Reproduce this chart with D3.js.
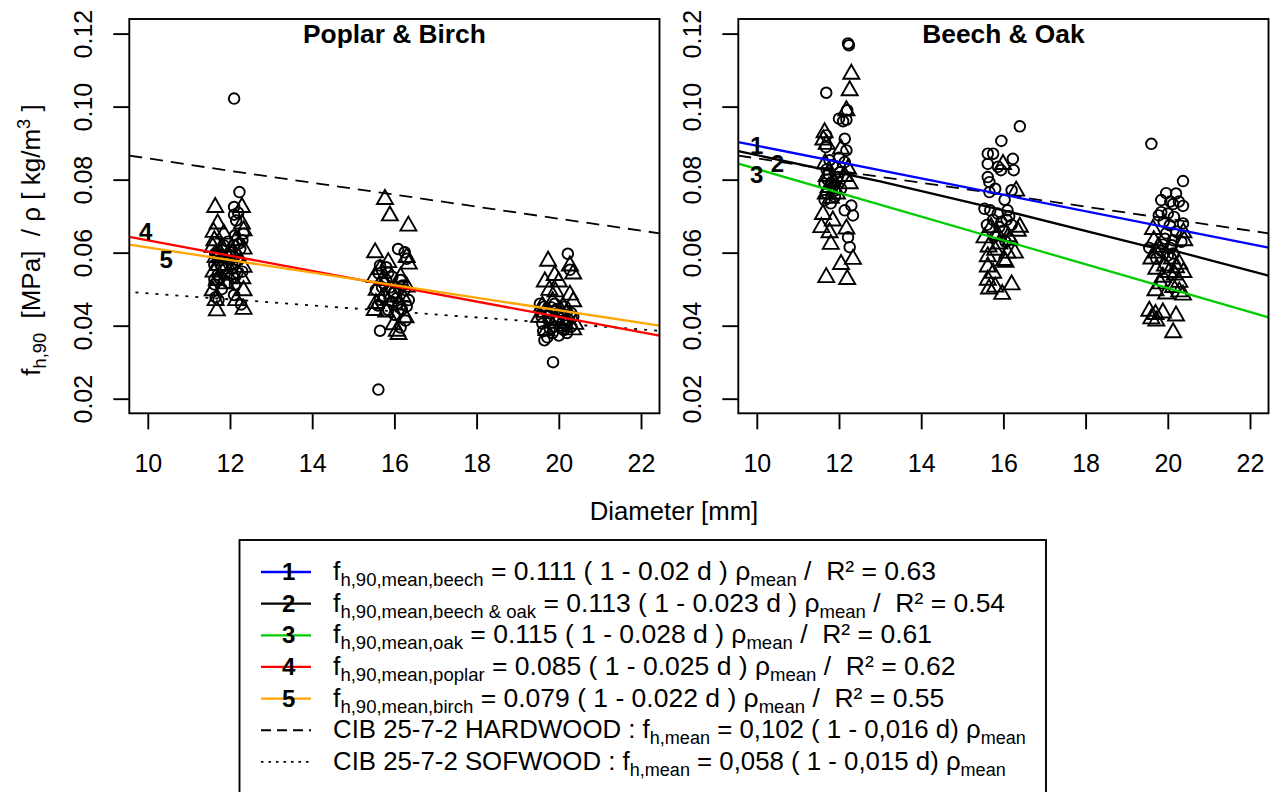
<!DOCTYPE html>
<html>
<head>
<meta charset="utf-8">
<script src="https://cdn.jsdelivr.net/npm/d3@7"></script>
<style>
  body { margin: 0; background: #fff; }
  text { font-family: "Liberation Sans", Arial, Helvetica, sans-serif; }
</style>
</head>
<body>
<div id="chart"></div>
<script>
const width = 1271;
const height = 792;

// axis ticks
const xTicks = [10, 12, 14, 16, 18, 20, 22];
const yTicks = [0.02, 0.04, 0.06, 0.08, 0.10, 0.12];
const panelTitles = ["Poplar & Birch", "Beech & Oak"];

// points [diameter, f/rho]
// Poplar & Birch panel: circles = poplar, triangles = birch
const poplarPts = [
  [12.10, 0.1022], [12.23, 0.0766], [12.10, 0.0725], [12.10, 0.0704], [12.20, 0.0709], [12.15, 0.0688],
  [12.33, 0.0652], [12.12, 0.0647], [12.30, 0.0634], [12.10, 0.0619], [12.25, 0.0610], [12.00, 0.0601],
  [11.64, 0.0597], [11.75, 0.0579], [12.20, 0.0579], [11.62, 0.0566], [11.90, 0.0557], [12.30, 0.0548],
  [11.70, 0.0540], [12.10, 0.0531], [11.62, 0.0527], [11.95, 0.0518], [11.65, 0.0478], [12.10, 0.0484],
  [12.27, 0.0458], [12.12, 0.0513], [11.62, 0.0513], [11.80, 0.0560], [12.00, 0.0590], [11.85, 0.0620],
  [12.05, 0.0570], [11.70, 0.0605], [11.80, 0.0500], [12.18, 0.0545], [11.95, 0.0630], [11.72, 0.0470],
  [11.85, 0.0585], [12.05, 0.0555], [11.75, 0.0530], [12.15, 0.0595], [11.92, 0.0540], [12.22, 0.0625],
  [15.61, 0.0225], [16.09, 0.0610], [16.25, 0.0601], [15.65, 0.0565], [15.80, 0.0560], [16.30, 0.0583],
  [15.62, 0.0543], [15.95, 0.0534], [15.75, 0.0516], [16.15, 0.0525], [15.55, 0.0498], [16.00, 0.0490],
  [16.25, 0.0498], [15.65, 0.0471], [16.10, 0.0462], [16.30, 0.0453], [15.85, 0.0443], [16.27, 0.0414],
  [15.65, 0.0386], [16.15, 0.0395], [15.90, 0.0505], [16.05, 0.0475], [15.75, 0.0480], [16.20, 0.0510],
  [15.85, 0.0545], [16.35, 0.0470], [15.60, 0.0455], [16.00, 0.0430], [15.70, 0.0505], [15.95, 0.0465],
  [16.12, 0.0500], [15.80, 0.0525], [16.18, 0.0445],
  [19.86, 0.0300], [20.22, 0.0597], [20.27, 0.0553], [19.54, 0.0460], [19.65, 0.0452], [19.80, 0.0433],
  [20.00, 0.0424], [20.20, 0.0438], [19.60, 0.0406], [19.88, 0.0397], [20.12, 0.0388], [19.72, 0.0368],
  [20.00, 0.0373], [20.30, 0.0397], [20.35, 0.0424], [19.65, 0.0360], [19.75, 0.0415], [19.95, 0.0445],
  [20.10, 0.0410], [20.25, 0.0415], [19.58, 0.0425], [19.85, 0.0380], [20.15, 0.0452], [20.05, 0.0395],
  [19.70, 0.0440], [20.30, 0.0435], [19.90, 0.0460], [20.20, 0.0380], [19.78, 0.0392], [19.95, 0.0415],
  [20.08, 0.0432], [19.62, 0.0385], [20.18, 0.0400], [19.82, 0.0450]
];
const birchPts = [
  [11.64, 0.0725], [12.29, 0.0725], [11.70, 0.0680], [12.29, 0.0680], [11.60, 0.0657], [11.85, 0.0652],
  [12.33, 0.0661], [11.62, 0.0634], [12.14, 0.0634], [11.58, 0.0616], [11.80, 0.0616], [12.33, 0.0611],
  [11.65, 0.0588], [12.20, 0.0588], [11.72, 0.0566], [12.33, 0.0561], [11.60, 0.0548], [12.05, 0.0543],
  [12.30, 0.0530], [11.68, 0.0525], [11.90, 0.0516], [11.58, 0.0497], [12.33, 0.0497], [11.68, 0.0442],
  [12.33, 0.0446], [11.65, 0.0470], [12.15, 0.0470], [11.95, 0.0590], [12.05, 0.0600], [11.75, 0.0600],
  [15.77, 0.0747], [15.89, 0.0702], [16.34, 0.0674], [15.53, 0.0601], [15.85, 0.0574], [16.30, 0.0588],
  [16.35, 0.0570], [15.52, 0.0534], [15.70, 0.0525], [16.15, 0.0534], [15.57, 0.0498], [15.95, 0.0488],
  [16.30, 0.0507], [15.55, 0.0462], [16.10, 0.0458], [15.52, 0.0443], [15.80, 0.0439], [16.27, 0.0423],
  [16.06, 0.0386], [16.10, 0.0377], [15.98, 0.0404], [15.75, 0.0480], [16.20, 0.0480], [15.65, 0.0555],
  [19.74, 0.0578], [20.27, 0.0565], [20.35, 0.0543], [19.66, 0.0521], [19.90, 0.0539], [20.00, 0.0521],
  [19.77, 0.0498], [19.92, 0.0494], [20.27, 0.0485], [20.35, 0.0467], [19.85, 0.0467], [20.10, 0.0453],
  [19.52, 0.0424], [19.66, 0.0438], [19.92, 0.0415], [20.15, 0.0407], [19.70, 0.0388], [20.35, 0.0390],
  [20.40, 0.0405], [19.60, 0.0455], [20.05, 0.0440]
];
// Beech & Oak panel: circles = beech, triangles = oak
const beechPts = [
  [12.22, 0.1173], [12.24, 0.1168], [11.69, 0.1038], [12.00, 0.0967], [12.18, 0.0964], [12.14, 0.0912],
  [11.69, 0.0921], [12.18, 0.0880], [11.68, 0.0889], [11.77, 0.0853], [12.14, 0.0848], [11.70, 0.0828],
  [11.97, 0.0807], [11.65, 0.0789], [11.85, 0.0780], [11.70, 0.0762], [11.90, 0.0753], [11.65, 0.0744],
  [11.80, 0.0735], [12.30, 0.0729], [12.14, 0.0716], [12.34, 0.0702], [12.22, 0.0642], [12.26, 0.0615],
  [12.20, 0.0990], [12.10, 0.0960], [11.95, 0.0800], [12.05, 0.0775], [11.75, 0.0815], [11.85, 0.0840],
  [12.00, 0.0860], [11.90, 0.0770], [11.80, 0.0790], [12.02, 0.0820], [11.72, 0.0800],
  [16.40, 0.0946], [15.95, 0.0906], [15.62, 0.0871], [15.75, 0.0871], [16.23, 0.0857], [15.62, 0.0843],
  [15.87, 0.0835], [16.25, 0.0826], [15.94, 0.0826], [15.62, 0.0807], [15.66, 0.0793], [15.80, 0.0775],
  [15.66, 0.0766], [16.20, 0.0771], [16.03, 0.0745], [15.54, 0.0720], [15.68, 0.0716], [15.86, 0.0707],
  [16.10, 0.0716], [16.14, 0.0700], [15.75, 0.0690], [15.95, 0.0685], [16.20, 0.0676], [15.60, 0.0676],
  [16.00, 0.0660], [15.80, 0.0645], [16.05, 0.0630], [15.90, 0.0670], [16.08, 0.0690],
  [19.60, 0.0898], [20.37, 0.0796], [19.96, 0.0763], [20.20, 0.0762], [19.84, 0.0744], [20.06, 0.0740],
  [20.27, 0.0740], [20.13, 0.0733], [20.37, 0.0728], [19.84, 0.0711], [19.78, 0.0702], [20.00, 0.0707],
  [20.15, 0.0698], [19.90, 0.0685], [20.05, 0.0675], [20.37, 0.0680], [20.20, 0.0658], [19.96, 0.0653],
  [20.33, 0.0630], [20.13, 0.0634], [19.93, 0.0638], [19.55, 0.0613], [20.06, 0.0613], [19.84, 0.0605],
  [20.13, 0.0598], [19.72, 0.0584], [20.00, 0.0592], [20.10, 0.0620], [19.88, 0.0622]
];
const oakPts = [
  [12.30, 0.1090], [12.26, 0.1045], [12.18, 0.0990], [11.65, 0.0930], [11.62, 0.0910], [11.70, 0.0898],
  [12.05, 0.0885], [11.66, 0.0845], [12.22, 0.0830], [12.14, 0.0810], [11.70, 0.0810], [11.85, 0.0795],
  [11.75, 0.0780], [12.26, 0.0790], [11.68, 0.0762], [11.95, 0.0762], [11.61, 0.0706], [11.85, 0.0688],
  [11.57, 0.0670], [12.18, 0.0666], [11.77, 0.0656], [11.80, 0.0624], [12.34, 0.0583], [12.05, 0.0569],
  [11.69, 0.0533], [12.20, 0.0528], [11.90, 0.0775], [11.80, 0.0750],
  [15.99, 0.0843], [16.31, 0.0770], [16.40, 0.0671], [15.54, 0.0642], [15.86, 0.0650], [16.17, 0.0635],
  [15.64, 0.0617], [15.80, 0.0608], [16.10, 0.0600], [16.28, 0.0600], [15.62, 0.0590], [16.02, 0.0580],
  [15.62, 0.0562], [15.75, 0.0545], [16.05, 0.0575], [15.62, 0.0526], [16.20, 0.0513], [15.80, 0.0507],
  [15.97, 0.0487], [15.65, 0.0502], [16.35, 0.0660], [15.70, 0.0670], [15.90, 0.0625], [16.12, 0.0645],
  [19.64, 0.0665], [20.38, 0.0656], [20.40, 0.0634], [19.66, 0.0634], [19.77, 0.0616], [19.72, 0.0600],
  [19.60, 0.0584], [20.10, 0.0584], [19.93, 0.0565], [20.28, 0.0570], [19.72, 0.0556], [20.20, 0.0560],
  [20.03, 0.0547], [20.38, 0.0547], [20.17, 0.0540], [19.88, 0.0534], [19.82, 0.0516], [20.28, 0.0520],
  [19.70, 0.0497], [20.28, 0.0494], [19.96, 0.0488], [19.55, 0.0441], [19.70, 0.0432], [19.88, 0.0436],
  [19.72, 0.0414], [19.60, 0.0420], [20.20, 0.0428], [20.13, 0.0382], [20.37, 0.0485], [20.13, 0.0506]
];

// fitted / reference lines [diameter, f/rho]
const hardwoodLine = [[9.55, 0.0866], [12, 0.0824], [16, 0.0759], [20, 0.0693], [22.45, 0.0653]];
const softwoodLine = [[9.7, 0.0491], [22.45, 0.0386]];
const poplarLine = [[9.55, 0.0643], [22.45, 0.0373]];
const birchLine = [[9.55, 0.0622], [22.45, 0.0400]];
const beechLine = [[9.55, 0.0903], [22.45, 0.0614]];
const beechOakLine = [[9.55, 0.0878], [12.3, 0.0812], [13, 0.0795], [16, 0.0716], [19.5, 0.0617], [20.1, 0.0607], [22.45, 0.0537]];
const oakLine = [[9.55, 0.0844], [22.45, 0.0423]];

// line number labels inside the panels
const leftLabels = [["4", 9.95, 0.0658], ["5", 10.45, 0.0580]];
const rightLabels = [["1", 10.0, 0.0894], ["2", 10.5, 0.0844], ["3", 10.0, 0.0814]];

// legend texts
const legendNums = ["1", "2", "3", "4", "5", "", ""];
const legendSubs = ["h,90,mean,beech", "h,90,mean,beech & oak", "h,90,mean,oak", "h,90,mean,poplar", "h,90,mean,birch", "h,mean", "h,mean"];
const legendPrefix = ["f", "f", "f", "f", "f", "CIB 25-7-2 HARDWOOD : f", "CIB 25-7-2 SOFWOOD : f"];
const legendEq = [
  " = 0.111 ( 1 - 0.02 d ) ρ",
  " = 0.113 ( 1 - 0.023 d ) ρ",
  " = 0.115 ( 1 - 0.028 d ) ρ",
  " = 0.085 ( 1 - 0.025 d ) ρ",
  " = 0.079 ( 1 - 0.022 d ) ρ",
  " = 0,102 ( 1 - 0,016 d) ρ",
  " = 0,058 ( 1 - 0,015 d) ρ"
];
const legendR2 = ["0.63", "0.54", "0.61", "0.62", "0.55", "", ""];

// styles
const colors = { beech: "#0000ff", beechOak: "#000000", oak: "#00cd00", poplar: "#ff0000", birch: "#ffa500" };
const legendColors = [colors.beech, colors.beechOak, colors.oak, colors.poplar, colors.birch, "#000", "#000"];
const legendDash = [null, null, null, null, null, "10,6", "2.5,5"];
const legendFont = [26.5, 26.5, 26.5, 26.5, 26.5, 25.8, 25.8];
const dashed = "13,8";
const dotted = "3,7";
const tickFont = 25;
const labelFont = 26;

const svg = d3.select("#chart").append("svg")
  .attr("width", width)
  .attr("height", height)
  .style("background", "#fff");

const yScale = d3.scaleLinear().domain([0.016, 0.124]).range([413.3, 19]);
const panelRanges = [[129.3, 659.5], [738.3, 1268.5]];

// text with sub / superscripts
const richText = (sel, parts, size) => {
  let shift = 0;
  parts.forEach(p => {
    const target = p.s === "sub" ? 6 : p.s === "sup" ? -10 : 0;
    sel.append("tspan")
      .attr("dy", target - shift)
      .attr("font-size", p.s ? size * 0.7 : size)
      .text(p.t);
    shift = target;
  });
};

const trianglePath = "M0,-9L8,5L-8,5Z";

const drawPanel = (index, series, lines, labels) => {
  const xScale = d3.scaleLinear().domain([9.55, 22.45]).range(panelRanges[index]);
  const g = svg.append("g");
  const line = d3.line().x(d => xScale(d[0])).y(d => yScale(d[1]));

  // points
  g.selectAll(".circ")
    .data(series.circles)
    .enter()
    .append("circle")
    .attr("cx", d => xScale(d[0]))
    .attr("cy", d => yScale(d[1]))
    .attr("r", 5.3)
    .attr("fill", "none")
    .attr("stroke", "#000")
    .attr("stroke-width", 1.9);
  g.selectAll(".tri")
    .data(series.triangles)
    .enter()
    .append("path")
    .attr("d", trianglePath)
    .attr("transform", d => `translate(${xScale(d[0])},${yScale(d[1])})`)
    .attr("fill", "none")
    .attr("stroke", "#000")
    .attr("stroke-width", 1.9);

  // lines
  const clipId = "clip" + index;
  svg.append("clipPath").attr("id", clipId)
    .append("rect")
    .attr("x", panelRanges[index][0]).attr("y", 19)
    .attr("width", panelRanges[index][1] - panelRanges[index][0])
    .attr("height", 413.3 - 19);
  lines.forEach(l => {
    g.append("path")
      .datum(l.data)
      .attr("d", line)
      .attr("clip-path", `url(#${clipId})`)
      .attr("fill", "none")
      .attr("stroke", l.color)
      .attr("stroke-width", l.dash ? 1.8 : 2.3)
      .attr("stroke-dasharray", l.dash);
  });

  labels.forEach(lb => {
    g.append("text")
      .attr("x", xScale(lb[1]))
      .attr("y", yScale(lb[2]))
      .attr("text-anchor", "middle")
      .attr("dominant-baseline", "central")
      .attr("font-weight", "bold")
      .attr("font-size", 24)
      .text(lb[0]);
  });

  // box
  g.append("rect")
    .attr("x", panelRanges[index][0]).attr("y", 19)
    .attr("width", panelRanges[index][1] - panelRanges[index][0])
    .attr("height", 413.3 - 19)
    .attr("fill", "none")
    .attr("stroke", "#000")
    .attr("stroke-width", 1.9);

  // x axis
  const xAxis = g.append("g")
    .attr("transform", "translate(0,413.3)")
    .call(d3.axisBottom(xScale).tickValues(xTicks).tickSize(16).tickPadding(25).tickFormat(d3.format("d")));
  xAxis.select(".domain").remove();
  xAxis.selectAll("line").attr("stroke-width", 1.9);
  xAxis.selectAll("text").attr("font-size", tickFont).attr("font-family", null).attr("fill", "#000");

  // y axis
  const x0 = panelRanges[index][0];
  const yAxis = g.append("g")
    .attr("transform", `translate(${x0},0)`)
    .call(d3.axisLeft(yScale).tickValues(yTicks).tickSize(16).tickFormat(d3.format(".2f")));
  yAxis.select(".domain").remove();
  yAxis.selectAll("line").attr("stroke-width", 1.9);
  yAxis.selectAll("text")
    .attr("font-size", tickFont)
    .attr("font-family", null)
    .attr("fill", "#000")
    .attr("x", null).attr("dy", null)
    .attr("text-anchor", "middle")
    .attr("transform", "translate(-37,0) rotate(-90)");

  // title
  g.append("text")
    .attr("x", (panelRanges[index][0] + panelRanges[index][1]) / 2)
    .attr("y", 43)
    .attr("text-anchor", "middle")
    .attr("font-weight", "bold")
    .attr("font-size", 26.3)
    .text(panelTitles[index]);
};

drawPanel(0,
  { circles: poplarPts, triangles: birchPts },
  [
    { data: hardwoodLine, color: "#000", dash: dashed },
    { data: softwoodLine, color: "#000", dash: dotted },
    { data: poplarLine, color: colors.poplar },
    { data: birchLine, color: colors.birch }
  ],
  leftLabels);

drawPanel(1,
  { circles: beechPts, triangles: oakPts },
  [
    { data: hardwoodLine, color: "#000", dash: dashed },
    { data: beechLine, color: colors.beech },
    { data: beechOakLine, color: colors.beechOak },
    { data: oakLine, color: colors.oak }
  ],
  rightLabels);

// y axis title
const yTitle = svg.append("text")
  .attr("transform", "translate(40,240) rotate(-90)")
  .attr("text-anchor", "middle")
  .attr("font-size", labelFont)
  .style("white-space", "pre");
richText(yTitle, [
  { t: "f" }, { t: "h,90", s: "sub" }, { t: "  [MPa]  / ρ [ kg/m" }, { t: "3", s: "sup" }, { t: " ]" }
], labelFont);

// x axis title
svg.append("text")
  .attr("x", 674)
  .attr("y", 520)
  .attr("text-anchor", "middle")
  .attr("font-size", 25.7)
  .text("Diameter [mm]");

// legend
const legend = svg.append("g");
legend.append("rect")
  .attr("x", 239.5).attr("y", 540)
  .attr("width", 1046 - 239.5).attr("height", 270)
  .attr("fill", "#fff")
  .attr("stroke", "#000")
  .attr("stroke-width", 1.9);

legendSubs.forEach((sub, i) => {
  const baseY = 580 + i * 31.65;
  legend.append("line")
    .attr("x1", 261).attr("x2", 311)
    .attr("y1", baseY - 8).attr("y2", baseY - 8)
    .attr("stroke", legendColors[i])
    .attr("stroke-width", legendDash[i] ? 1.8 : 2.3)
    .attr("stroke-dasharray", legendDash[i]);
  if (legendNums[i]) {
    legend.append("text")
      .attr("x", 288.6).attr("y", baseY)
      .attr("text-anchor", "middle")
      .attr("font-weight", "bold")
      .attr("font-size", 24)
      .text(legendNums[i]);
  }
  const row = legend.append("text")
    .attr("x", 333).attr("y", baseY)
    .attr("font-size", legendFont[i])
    .style("white-space", "pre");
  const parts = [
    { t: legendPrefix[i] }, { t: sub, s: "sub" }, { t: legendEq[i] }, { t: "mean", s: "sub" }
  ];
  if (legendR2[i]) parts.push({ t: " /  R² = " + legendR2[i] });
  richText(row, parts, legendFont[i]);
});
</script>
</body>
</html>
